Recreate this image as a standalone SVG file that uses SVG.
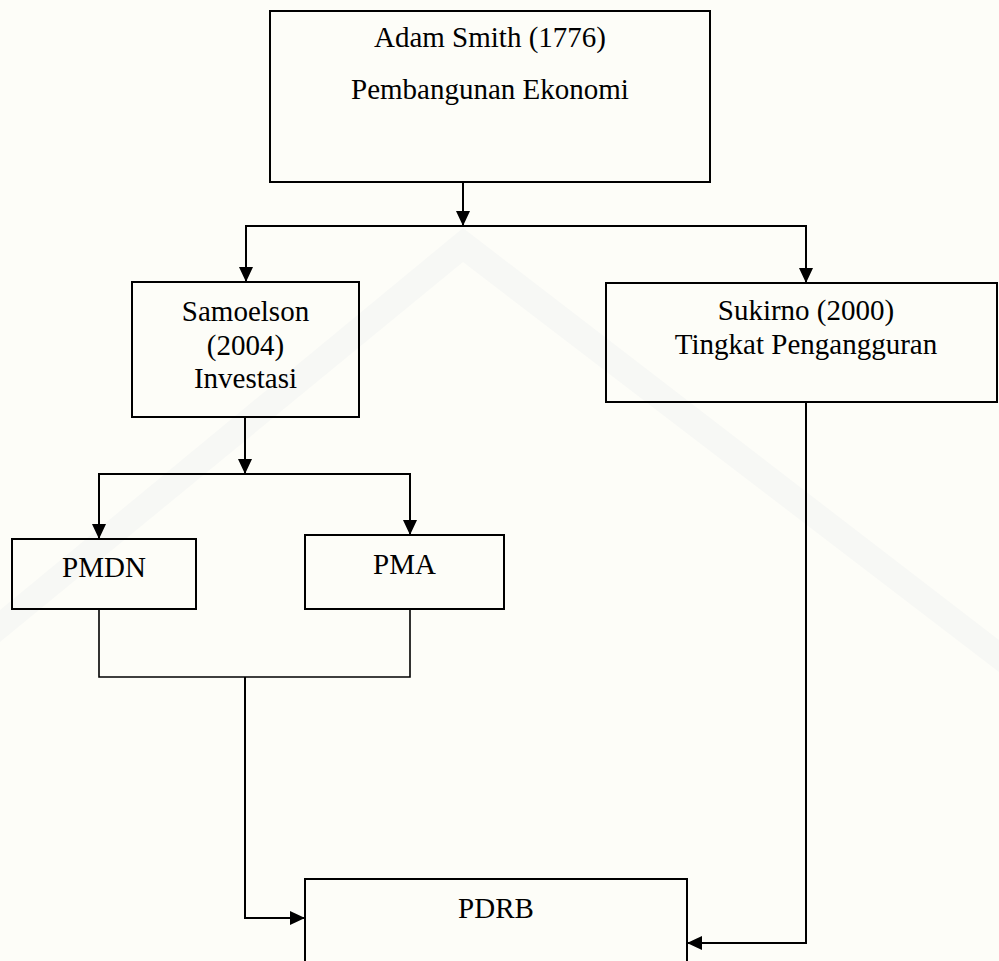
<svg xmlns="http://www.w3.org/2000/svg" width="999" height="961" viewBox="0 0 999 961">
  <style>
    .box { fill: none; stroke: #000; stroke-width: 2; }
    .lbl { font-family: "Liberation Serif", "Times New Roman", serif; font-size: 29px; fill: #000; text-anchor: middle; }
    .arrow { fill: none; stroke: #000; stroke-width: 2; marker-end: url(#arr); }
    .line { fill: none; stroke: #000; stroke-width: 1.6; }
  </style>
  <defs>
    <marker id="arr" viewBox="0 0 15 14" refX="15" refY="7" markerWidth="15" markerHeight="14" markerUnits="userSpaceOnUse" orient="auto">
      <path d="M0,0 L15,7 L0,14 z" fill="#000"/>
    </marker>
  </defs>
  <rect x="0" y="0" width="999" height="961" fill="#fdfdf8"/>
  <g id="watermark" opacity="0.04" fill="#6a7fa8">
    <polygon points="0,610 463,228 999,640 999,672 463,262 0,642"/>
  </g>

  <g id="connectors">
    <line class="arrow" x1="463" y1="182" x2="463" y2="226"/>
    <line class="line" x1="245" y1="226" x2="807" y2="226" style="stroke-width:2"/>
    <line class="arrow" x1="246" y1="226" x2="246" y2="282"/>
    <line class="arrow" x1="806" y1="226" x2="806" y2="283"/>

    <line class="arrow" x1="245" y1="417" x2="245" y2="474"/>
    <line class="line" x1="98" y1="474" x2="411" y2="474" style="stroke-width:2"/>
    <line class="arrow" x1="99" y1="474" x2="99" y2="539"/>
    <line class="arrow" x1="410" y1="474" x2="410" y2="535"/>

    <polyline class="line" points="99,609 99,677 410,677 410,609"/>
    <polyline class="arrow" points="245,677 245,918 305,918"/>
    <polyline class="arrow" points="806,402 806,943 687,943"/>
  </g>

  <g id="adam-smith">
    <rect class="box" x="270" y="11" width="440" height="171"/>
    <text class="lbl" x="490" y="47">Adam Smith (1776)</text>
    <text class="lbl" x="490" y="99">Pembangunan Ekonomi</text>
  </g>
  <g id="samoelson">
    <rect class="box" x="132" y="282" width="227" height="135"/>
    <text class="lbl" x="245.5" y="321">Samoelson</text>
    <text class="lbl" x="245.5" y="355">(2004)</text>
    <text class="lbl" x="245.5" y="388">Investasi</text>
  </g>
  <g id="sukirno">
    <rect class="box" x="606" y="283" width="391" height="119"/>
    <text class="lbl" x="806" y="320">Sukirno (2000)</text>
    <text class="lbl" x="806" y="354">Tingkat Pengangguran</text>
  </g>
  <g id="pmdn">
    <rect class="box" x="12" y="539" width="184" height="70"/>
    <text class="lbl" x="104" y="577">PMDN</text>
  </g>
  <g id="pma">
    <rect class="box" x="305" y="535" width="199" height="74"/>
    <text class="lbl" x="404.5" y="574">PMA</text>
  </g>
  <g id="pdrb">
    <rect class="box" x="305" y="879" width="382" height="100"/>
    <text class="lbl" x="496" y="918">PDRB</text>
  </g>
</svg>
